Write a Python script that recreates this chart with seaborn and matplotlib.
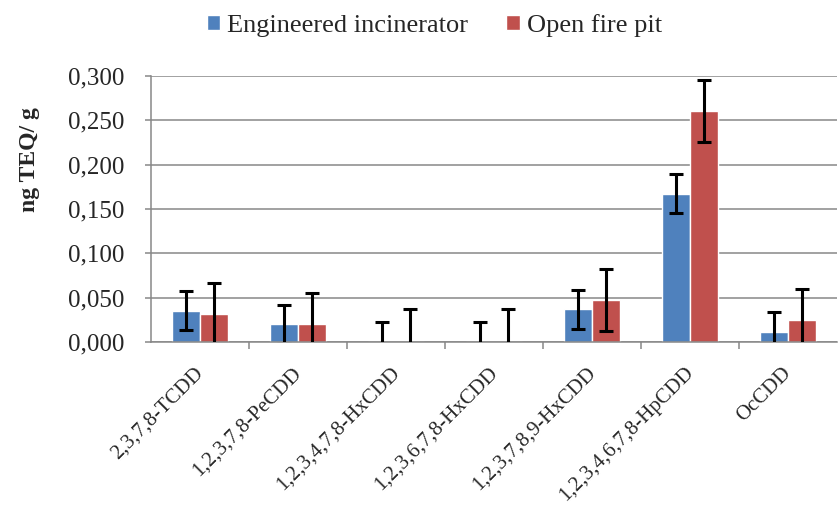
import pandas as pd
import matplotlib.pyplot as plt
import matplotlib.ticker as mticker
import matplotlib.transforms as mtrans
import seaborn as sns
import numpy as np

# chart values
congeners = ["2,3,7,8-TCDD", "1,2,3,7,8-PeCDD", "1,2,3,4,7,8-HxCDD", "1,2,3,6,7,8-HxCDD",
             "1,2,3,7,8,9-HxCDD", "1,2,3,4,6,7,8-HpCDD", "OcCDD"]
incinerator = [0.035, 0.020, 0.0, 0.0, 0.037, 0.167, 0.011]
fire_pit = [0.032, 0.020, 0.0, 0.0, 0.047, 0.261, 0.025]
incinerator_err = [0.022, 0.022, 0.023, 0.023, 0.022, 0.022, 0.023]
fire_pit_err = [0.035, 0.035, 0.037, 0.037, 0.035, 0.035, 0.035]
sources = ["Engineered incinerator", "Open fire pit"]
colours = ["#4F81BD", "#C0504D"]

Data = pd.DataFrame({
    "Congener": congeners * 2,
    "Source": [sources[0]] * len(congeners) + [sources[1]] * len(congeners),
    "TEQ": incinerator + fire_pit,
})

sns.set_style("white")
plt.rcParams['font.family'] = ['Liberation Serif', 'DejaVu Serif']
plt.rcParams['font.size'] = 18

fig = plt.figure(figsize=(8.4, 5.05), dpi=100)
ax = fig.add_axes([151/840, 1-342/505, 686/840, 266/505])

sns.barplot(data=Data, x="Congener", y="TEQ", hue="Source", order=congeners,
            hue_order=sources, palette=colours, width=0.57, errorbar=None,
            saturation=1, ax=ax, zorder=2)

# error bars on each bar
for cont, errs in zip(ax.containers, [incinerator_err, fire_pit_err]):
    xs = [p.get_x() + p.get_width()/2 for p in cont.patches]
    ys = [p.get_height() for p in cont.patches]
    ax.errorbar(xs, ys, yerr=errs, fmt="none", ecolor="black", elinewidth=2.2,
                capsize=5, capthick=2.2, zorder=3)

ax.set_ylim(0, 0.3)
ax.set_xlim(-0.5, len(congeners) - 0.5)
ax.yaxis.set_major_locator(mticker.MultipleLocator(0.05))
ax.yaxis.set_major_formatter(mticker.FuncFormatter(lambda v, p: "{:.3f}".format(v).replace(".", ",")))
ax.grid(axis="y", color="#878787", linewidth=1.1, zorder=0)
ax.set_axisbelow(True)

for s in ["top", "right"]:
    ax.spines[s].set_visible(False)
for s in ["left", "bottom"]:
    ax.spines[s].set_color("#878787")
    ax.spines[s].set_linewidth(1.1)

# ticks between the categories
ax.xaxis.set_minor_locator(mticker.FixedLocator(np.arange(0.5, len(congeners) - 0.5, 1)))
ax.tick_params(axis="x", which="major", length=0, pad=15.5, labelsize=15)
ax.tick_params(axis="x", which="minor", length=5, width=1.1, color="#878787", direction="out", bottom=True)
ax.tick_params(axis="y", length=4, width=1.1, color="#878787", direction="out", left=True, pad=15)
shift = mtrans.ScaledTranslation(-6/100, 0, fig.dpi_scale_trans)
for lab in ax.get_xticklabels():
    lab.set_rotation(45)
    lab.set_ha("right")
    lab.set_va("top")
    lab.set_rotation_mode("anchor")
    lab.set_transform(lab.get_transform() + shift)

ax.set_xlabel("")
ax.set_ylabel("ng TEQ/ g", fontweight="bold", fontsize=17)
ax.yaxis.set_label_coords(-0.162, 0.684)

ax.legend(loc="center", bbox_to_anchor=(0.517, 0.95), bbox_transform=fig.transFigure,
          ncol=2, frameon=False, handlelength=0.53, handleheight=0.53, handletextpad=0.25,
          columnspacing=1.45, fontsize=19)

plt.savefig("out.png", dpi=100)
